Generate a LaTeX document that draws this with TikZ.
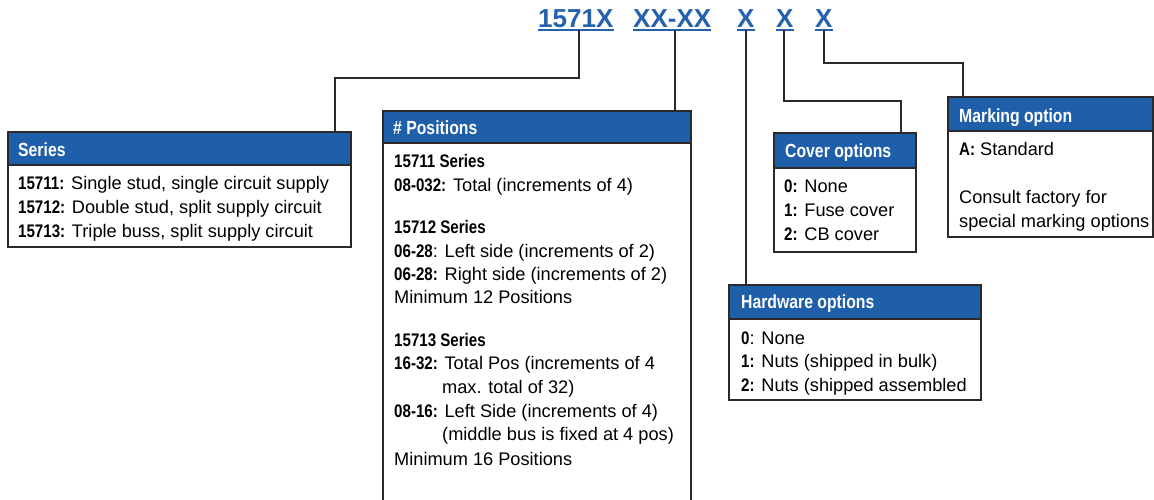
\documentclass[tikz,border=0pt]{standalone}
\usepackage{fontspec}
\setmainfont{Liberation Sans}
\newfontfamily\hdfont[FakeStretch=0.83]{Liberation Sans}
\usetikzlibrary{calc}
\definecolor{hblue}{HTML}{1F5FAA}
\definecolor{tblue}{HTML}{2462AE}
\definecolor{edge}{HTML}{2A2A2A}
\newcommand\lbl[1]{{\hdfont\bfseries #1}}
\begin{document}
\begin{tikzpicture}[x=1pt,y=-1pt,
  hdr/.style={draw=edge, line width=1.4pt, fill=hblue, anchor=north west, inner sep=0pt, outer sep=0pt},
  bdy/.style={draw=edge, line width=1.4pt, fill=white, anchor=north west, inner sep=0pt, outer sep=0pt},
  htxt/.style={anchor=base west, inner sep=0pt, text=white, font=\hdfont\bfseries\fontsize{19}{22}\selectfont},
  btxt/.style={anchor=base west, inner sep=0pt, text=black, font=\fontsize{18.2}{22}\selectfont},
  ttl/.style={anchor=base west, inner sep=0pt, text=tblue, font=\bfseries\fontsize{26}{30}\selectfont},
  conn/.style={draw=edge, line width=1.3pt},
  uline/.style={draw=tblue, line width=1.6pt}]
\useasboundingbox (0,0) rectangle (1154,499);
\clip (0,0) rectangle (1154,499);
\fill[white] (0,0) rectangle (1154,499);

% title
\node[ttl] (t1) at (538,27) {1571X};
\node[ttl] (t2) at (633,27) {XX-XX};
\node[ttl] (t3) at (737,27) {X};
\node[ttl] (t4) at (776,27) {X};
\node[ttl] (t5) at (815,27) {X};
\foreach \t in {t1,t2,t3,t4,t5}
  \draw[uline] ($(\t.base west)+(0,3)$) -- ($(\t.base east)+(0,3)$);

% boxes
\node[hdr, minimum width=343pt, minimum height=33pt] (sH) at (8,132) {};
\node[bdy, minimum width=343pt, minimum height=82pt] (sB) at (sH.south west) {};
\node[hdr, minimum width=308pt, minimum height=32pt] (pH) at (383,111) {};
\node[bdy, minimum width=308pt, minimum height=400pt] (pB) at (pH.south west) {};
\node[hdr, minimum width=142pt, minimum height=35pt] (cH) at (774,133) {};
\node[bdy, minimum width=142pt, minimum height=84pt] (cB) at (cH.south west) {};
\node[hdr, minimum width=205pt, minimum height=34pt] (mH) at (948,97) {};
\node[bdy, minimum width=205pt, minimum height=106pt] (mB) at (mH.south west) {};
\node[hdr, minimum width=252pt, minimum height=34pt] (hH) at (729,285) {};
\node[bdy, minimum width=252pt, minimum height=81pt] (hB) at (hH.south west) {};

% connectors
\draw[conn] ($(t1.base west)+(41,3)$) -- ++(0,48) -| ($(sH.north west)+(327,0)$);
\draw[conn] ($(t2.base west)+(42,3)$) -- ($(pH.north west)+(292,0)$);
\draw[conn] ($(t3.base west)+(9,3)$) -- ($(hH.north west)+(17,0)$);
\draw[conn] ($(t4.base west)+(8,3)$) -- ++(0,71) -| ($(cH.north west)+(127,0)$);
\draw[conn] ($(t5.base west)+(9,3)$) -- ++(0,33) -| ($(mH.north west)+(15,0)$);

% Series
\node[htxt] (sh) at (18,156) {Series};
\node[btxt] (s1) at (18,189) {\lbl{15711:} Single stud, single circuit supply};
\node[btxt] (s2) at (18,213) {\lbl{15712:} Double stud, split supply circuit};
\node[btxt] (s3) at (18,237) {\lbl{15713:} Triple buss, split supply circuit};

% Positions
\node[htxt] (ph) at (393,134) {\# Positions};
\node[btxt] (p1) at (394,167) {\lbl{15711 Series}};
\node[btxt] (p2) at (394,191) {\lbl{08-032:} Total (increments of 4)};
\node[btxt] (p3) at (394,233) {\lbl{15712 Series}};
\node[btxt] (p4) at (394,257) {\lbl{06-28}: Left side (increments of 2)};
\node[btxt] (p5) at (394,280) {\lbl{06-28:} Right side (increments of 2)};
\node[btxt] (p6) at (394,303) {Minimum 12 Positions};
\node[btxt] (p7) at (394,346) {\lbl{15713 Series}};
\node[btxt] (p8) at (394,369) {\lbl{16-32:} Total Pos (increments of 4};
\node[btxt] (p9) at (442,393) {max. total of 32)};
\node[btxt] (p10) at (394,417) {\lbl{08-16:} Left Side (increments of 4)};
\node[btxt] (p11) at (442,440) {(middle bus is fixed at 4 pos)};
\node[btxt] (p12) at (394,465) {Minimum 16 Positions};

% Cover
\node[htxt] (ch) at (785,157) {Cover options};
\node[btxt] (c1) at (784,192) {\lbl{0:} None};
\node[btxt] (c2) at (784,216) {\lbl{1:} Fuse cover};
\node[btxt] (c3) at (784,240) {\lbl{2:} CB cover};

% Marking
\node[htxt] (mh) at (959,122) {Marking option};
\node[btxt] (m1) at (959,155) {\lbl{A:} Standard};
\node[btxt] (m2) at (959,203) {Consult factory for};
\node[btxt] (m3) at (959,227) {special marking options};

% Hardware
\node[htxt] (hh) at (741,308) {Hardware options};
\node[btxt] (h1) at (741,344) {\lbl{0}: None};
\node[btxt] (h2) at (741,367) {\lbl{1:} Nuts (shipped in bulk)};
\node[btxt] (h3) at (741,391) {\lbl{2:} Nuts (shipped assembled};
\end{tikzpicture}
\end{document}
